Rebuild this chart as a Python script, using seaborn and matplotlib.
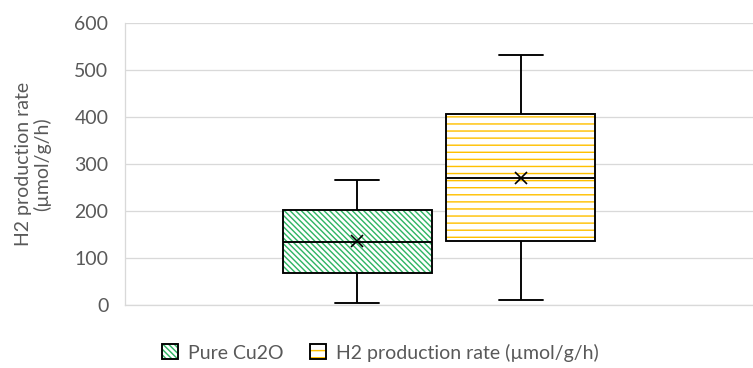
import numpy as np
import pandas as pd
import matplotlib
matplotlib.use("Agg")
import matplotlib.pyplot as plt
from matplotlib.patches import PathPatch, Patch
import seaborn as sns

# Series shown as box plots within a single category
series_names = ["Pure Cu2O", "H2 production rate (µmol/g/h)"]
pure_cu2o = [5, 68, 135, 203, 265]
h2_rate = [10, 136, 271, 406, 532]
y_ticks = [0, 100, 200, 300, 400, 500, 600]

hatch_colors = {"Pure Cu2O": "#2FB463", "H2 production rate (µmol/g/h)": "#FFC000"}
hatch_styles = {"Pure Cu2O": "\\\\\\\\\\", "H2 production rate (µmol/g/h)": "--"}

sns.set_theme(style="white")
plt.rcParams["font.family"] = ["Lato", "DejaVu Sans"]
plt.rcParams["hatch.linewidth"] = 1.2

df = pd.DataFrame({
    "group": [""] * (len(pure_cu2o) + len(h2_rate)),
    "series": [series_names[0]] * len(pure_cu2o) + [series_names[1]] * len(h2_rate),
    "value": pure_cu2o + h2_rate,
})

DPI = 85
FS = 16.5
fig = plt.figure(figsize=(753 / DPI, 368 / DPI), dpi=DPI)
ax = fig.add_axes([125 / 753, 1 - 305 / 368, 628 / 753, (305 - 23) / 368])

lw = 1.6
sns.boxplot(
    data=df, x="group", y="value", hue="series", hue_order=series_names,
    width=0.52, gap=0.09, whis=1.5, showmeans=True, showfliers=False,
    palette={s: "white" for s in series_names}, linecolor="black", linewidth=lw,
    capwidths=0.07,
    meanprops=dict(marker="x", markeredgecolor="black", markerfacecolor="black",
                   markersize=10, markeredgewidth=1.4),
    legend=False, ax=ax,
)

# Patterned fills drawn over each box, then the black outline on top
boxes = list(ax.patches)
for name, box in zip(series_names, boxes):
    z = box.get_zorder()
    box.set_edgecolor("none")
    ax.add_patch(PathPatch(box.get_path(), transform=box.get_transform(),
                           facecolor="none", edgecolor=hatch_colors[name],
                           hatch=hatch_styles[name], lw=0, zorder=z + 0.02))
    ax.add_patch(PathPatch(box.get_path(), transform=box.get_transform(),
                           facecolor="none", edgecolor="black", lw=lw,
                           zorder=z + 0.04))

ax.set_ylim(0, 600)
ax.set_yticks(y_ticks)
ax.set_xticks([])
ax.set_xlabel("")
ax.set_ylabel("H2 production rate\n(µmol/g/h)", color="#595959", fontsize=FS,
              labelpad=20, linespacing=1.05, multialignment="center")
ax.tick_params(axis="y", colors="#595959", labelsize=FS, length=0, pad=14)
ax.yaxis.grid(True, color="#D9D9D9", lw=1.1)
ax.set_axisbelow(True)
for side in ["top", "right"]:
    ax.spines[side].set_visible(False)
for side in ["left", "bottom"]:
    ax.spines[side].set_color("#D9D9D9")
    ax.spines[side].set_linewidth(1.1)

handles = []
for name in series_names:
    handles.append((
        Patch(facecolor="white", edgecolor=hatch_colors[name], hatch=hatch_styles[name], lw=0),
        Patch(facecolor="none", edgecolor="black", lw=1.6),
    ))
fig.legend(handles, series_names, loc="lower center", bbox_to_anchor=(0.505, -0.03),
           ncol=2, frameon=False, fontsize=FS, labelcolor="#595959",
           handlelength=0.8, handleheight=0.8, handletextpad=0.5, columnspacing=1.4)

fig.savefig("out.png", dpi=DPI)
